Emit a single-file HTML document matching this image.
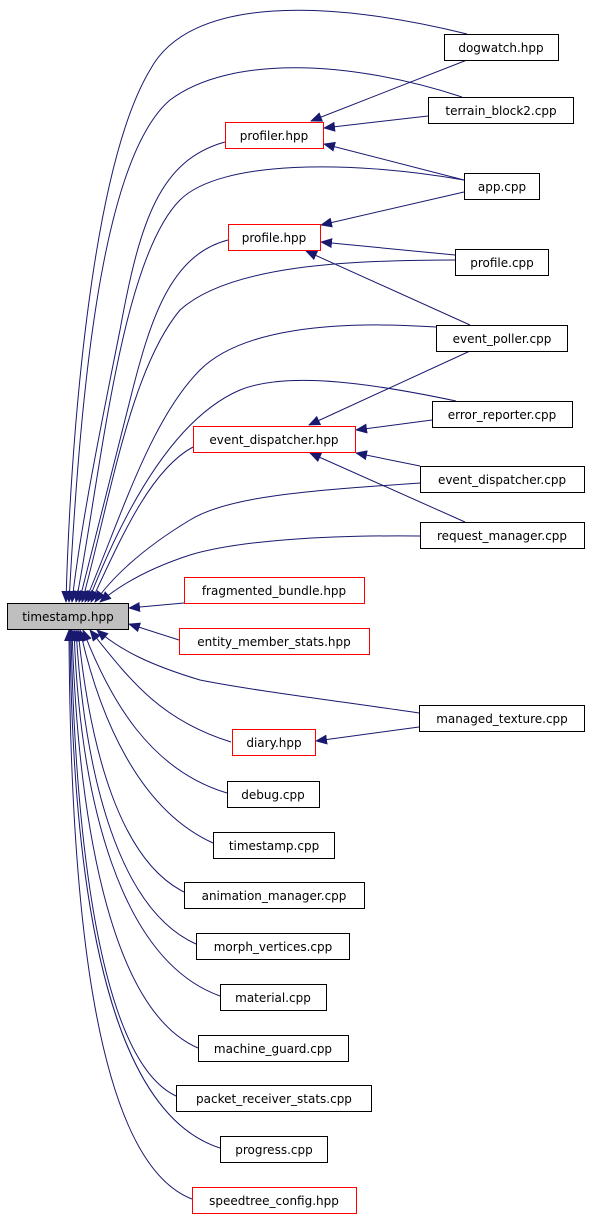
<!DOCTYPE html>
<html><head><meta charset="utf-8"><style>
body{margin:0;background:#fff;}
svg{display:block;font-family:"DejaVu Sans","Liberation Sans",sans-serif;}
text{font-size:12px;fill:#000;}
</style></head><body>
<svg width="589" height="1217" viewBox="0 0 589 1217" xmlns="http://www.w3.org/2000/svg">
<defs><marker id="a" markerWidth="12" markerHeight="10" refX="11" refY="5" orient="auto" markerUnits="userSpaceOnUse"><path d="M0,0 L12,5 L0,10 Z" fill="#191970"/></marker></defs>
<g fill="none" stroke="#191970" stroke-width="1" marker-end="url(#a)">
<path d="M467,34 C330,0 190,-5 150,70 C90,170 70,450 66,602"/>
<path d="M462,97 C350,60 230,55 170,100 C100,160 80,400 69,602"/>
<path d="M225,142 C160,160 140,220 120,330 C100,430 80,530 72,602"/>
<path d="M464,180 C350,160 220,160 180,200 C120,260 100,480 76,602"/>
<path d="M228,240 C170,255 150,320 130,400 C110,480 95,540 79,602"/>
<path d="M455,260 C350,260 230,265 180,310 C130,370 110,500 82,602"/>
<path d="M436,327 C330,320 240,330 200,370 C150,420 120,520 85,602"/>
<path d="M456,401 C380,385 290,370 240,390 C170,420 120,520 88,602"/>
<path d="M193,447 C150,470 120,540 91,602"/>
<path d="M420,483 C320,490 230,495 190,520 C140,550 110,580 95,602"/>
<path d="M420,536 C330,535 240,540 190,555 C150,568 120,585 100,602"/>
<path d="M184,603 L129,608"/>
<path d="M179,640 L129,624"/>
<path d="M419,713 C330,700 250,690 200,680 C150,665 120,650 97,630"/>
<path d="M231,742 C160,720 130,680 90,630"/>
<path d="M227,793 C150,770 110,700 83,630"/>
<path d="M213,843 C140,810 100,720 80,630"/>
<path d="M184,892 C120,860 90,750 78,630"/>
<path d="M196,944 C120,910 85,780 76,630"/>
<path d="M220,996 C120,960 80,800 74,630"/>
<path d="M198,1048 C110,1010 78,820 72,630"/>
<path d="M176,1096 C100,1060 75,840 71,630"/>
<path d="M220,1148 C100,1110 72,860 70,630"/>
<path d="M192,1199 C90,1160 70,880 69,630"/>
<path d="M467,60 L311,121"/>
<path d="M428,116 L324,128"/>
<path d="M464,180 L324,144"/>
<path d="M464,192 L321,225"/>
<path d="M455,255 L321,242"/>
<path d="M470,325 L306,251"/>
<path d="M470,351 L309,425"/>
<path d="M432,420 L356,430"/>
<path d="M420,466 L356,453"/>
<path d="M465,522 L310,453"/>
<path d="M419,727 L316,741"/>
</g>
<g stroke-width="1" fill="#fff">
<rect x="7.5" y="603.5" width="121" height="26" fill="#bfbfbf" stroke="#000"/>
<rect x="444.5" y="34.5" width="114" height="26" stroke="#000"/>
<rect x="428.5" y="97.5" width="145" height="26" stroke="#000"/>
<rect x="225.5" y="122.5" width="98" height="26" stroke="#f00"/>
<rect x="464.5" y="173.5" width="75" height="26" stroke="#000"/>
<rect x="228.5" y="224.5" width="92" height="26" stroke="#f00"/>
<rect x="455.5" y="249.5" width="93" height="26" stroke="#000"/>
<rect x="436.5" y="325.5" width="131" height="26" stroke="#000"/>
<rect x="432.5" y="401.5" width="140" height="26" stroke="#000"/>
<rect x="193.5" y="426.5" width="162" height="26" stroke="#f00"/>
<rect x="420.5" y="466.5" width="164" height="26" stroke="#000"/>
<rect x="420.5" y="522.5" width="164" height="26" stroke="#000"/>
<rect x="184.5" y="577.5" width="180" height="26" stroke="#f00"/>
<rect x="179.5" y="628.5" width="190" height="26" stroke="#f00"/>
<rect x="419.5" y="705.5" width="165" height="26" stroke="#000"/>
<rect x="232.5" y="729.5" width="83" height="26" stroke="#f00"/>
<rect x="227.5" y="781.5" width="92" height="26" stroke="#000"/>
<rect x="213.5" y="832.5" width="121" height="26" stroke="#000"/>
<rect x="184.5" y="882.5" width="180" height="26" stroke="#000"/>
<rect x="196.5" y="933.5" width="153" height="26" stroke="#000"/>
<rect x="220.5" y="984.5" width="106" height="26" stroke="#000"/>
<rect x="198.5" y="1035.5" width="150" height="26" stroke="#000"/>
<rect x="176.5" y="1085.5" width="195" height="26" stroke="#000"/>
<rect x="220.5" y="1136.5" width="107" height="26" stroke="#000"/>
<rect x="192.5" y="1187.5" width="164" height="26" stroke="#f00"/>
</g>
<g text-anchor="middle">
<text x="68" y="621">timestamp.hpp</text>
<text x="501" y="52">dogwatch.hpp</text>
<text x="501" y="115">terrain_block2.cpp</text>
<text x="274" y="140">profiler.hpp</text>
<text x="502" y="191">app.cpp</text>
<text x="274" y="242">profile.hpp</text>
<text x="502" y="267">profile.cpp</text>
<text x="502" y="343">event_poller.cpp</text>
<text x="502" y="419">error_reporter.cpp</text>
<text x="274" y="444">event_dispatcher.hpp</text>
<text x="502" y="484">event_dispatcher.cpp</text>
<text x="502" y="540">request_manager.cpp</text>
<text x="274" y="595">fragmented_bundle.hpp</text>
<text x="274" y="646">entity_member_stats.hpp</text>
<text x="502" y="723">managed_texture.cpp</text>
<text x="274" y="747">diary.hpp</text>
<text x="273" y="799">debug.cpp</text>
<text x="274" y="850">timestamp.cpp</text>
<text x="274" y="900">animation_manager.cpp</text>
<text x="273" y="951">morph_vertices.cpp</text>
<text x="273" y="1002">material.cpp</text>
<text x="273" y="1053">machine_guard.cpp</text>
<text x="274" y="1103">packet_receiver_stats.cpp</text>
<text x="274" y="1154">progress.cpp</text>
<text x="274" y="1205">speedtree_config.hpp</text>
</g>
</svg>
</body></html>
